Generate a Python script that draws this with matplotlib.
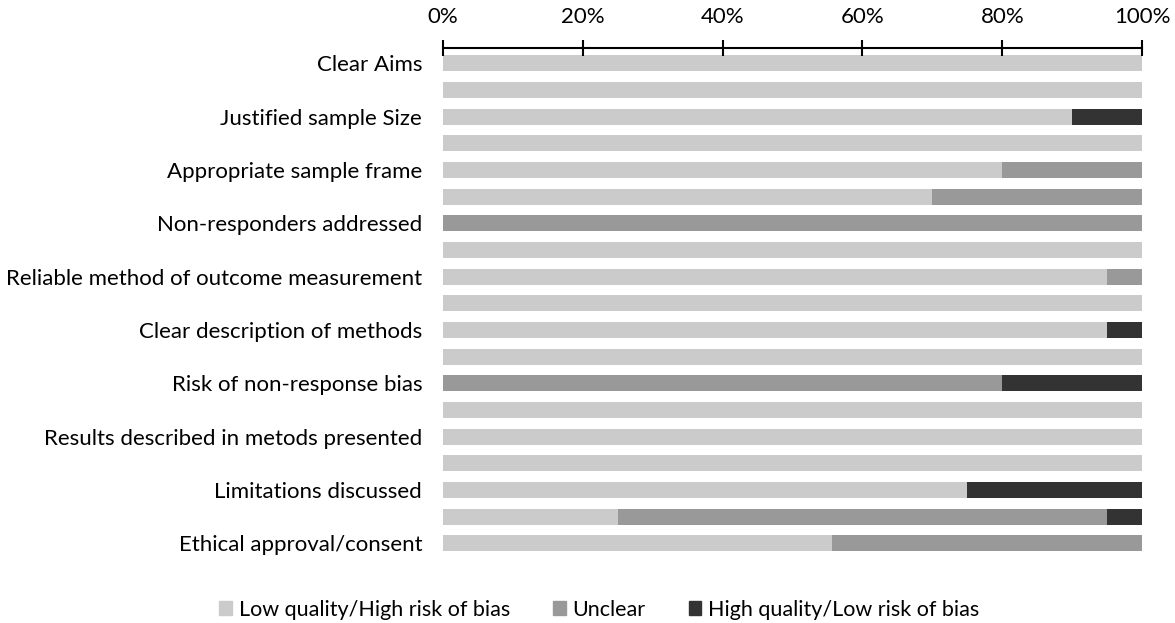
import matplotlib.pyplot as plt
import numpy as np
from matplotlib.patches import Patch
from matplotlib.ticker import PercentFormatter

# rows from top to bottom; only every second row carries a label
categories = ["Clear Aims", "", "Justified sample Size", "", "Appropriate sample frame", "",
              "Non-responders addressed", "", "Reliable method of outcome measurement", "",
              "Clear description of methods", "", "Risk of non-response bias", "",
              "Results described in metods presented", "", "Limitations discussed", "",
              "Ethical approval/consent"]
low_quality = [100, 100, 90, 100, 80, 70, 0, 100, 95, 100, 95, 100, 0, 100, 100, 100, 75, 25, 55.6]
unclear = [0, 0, 0, 0, 20, 30, 100, 0, 5, 0, 0, 0, 80, 0, 0, 0, 0, 70, 44.4]
high_quality = [0, 0, 10, 0, 0, 0, 0, 0, 0, 0, 5, 0, 20, 0, 0, 0, 25, 5, 0]
series_names = ["Low quality/High risk of bias", "Unclear", "High quality/Low risk of bias"]
colors = ["#cbcbcb", "#999999", "#333333"]

plt.rcParams['font.family'] = ['Lato', 'DejaVu Sans']

fig = plt.figure(figsize=(11.75, 6.23), dpi=100)
ax = fig.add_axes([0.377, 0.10, 0.595, 0.823])

y = np.arange(len(categories))
left = np.zeros(len(categories))
for vals, name, c in zip([low_quality, unclear, high_quality], series_names, colors):
    vals = np.array(vals, dtype=float)
    ax.barh(y, vals, left=left, height=0.6, color=c, label=name)
    left += vals

ax.set_xlim(0, 100)
ax.set_ylim(len(categories) - 0.35, -0.57)
ax.xaxis.set_ticks_position('top')
ax.xaxis.set_label_position('top')
ax.set_xticks(np.arange(0, 101, 20))
ax.xaxis.set_major_formatter(PercentFormatter(decimals=0))
ax.tick_params(axis='x', direction='inout', length=12, width=1.5, labelsize=16, pad=9, colors='black')
ax.set_yticks(y)
ax.set_yticklabels(categories, fontsize=16)
ax.tick_params(axis='y', length=0, pad=15)
for s in ['bottom', 'left', 'right']:
    ax.spines[s].set_visible(False)
ax.spines['top'].set_linewidth(1.5)

handles = [Patch(color=c, label=n) for c, n in zip(colors, series_names)]
fig.legend(handles=handles, loc='lower center', ncol=3, frameon=False, fontsize=15.5,
           bbox_to_anchor=(0.51, -0.026), handlelength=0.6, handleheight=0.6, handletextpad=0.3,
           columnspacing=2.0)

fig.savefig("out.png", dpi=100)
